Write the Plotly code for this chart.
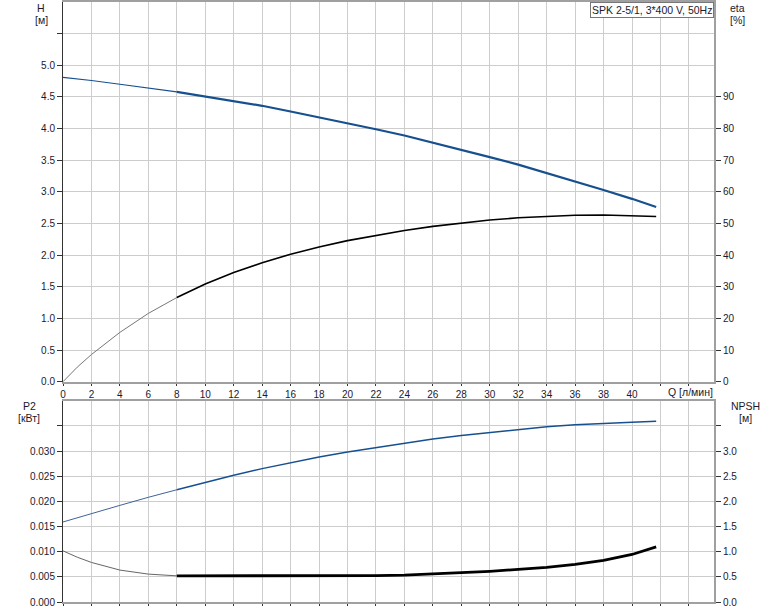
import plotly.graph_objects as go

# ---- data ----
Q = [0, 1, 2, 4, 6, 8, 10, 12, 14, 16, 18, 20, 22, 24, 26, 28, 30, 32, 34, 36, 38, 40, 41.7]
H = [4.81, 4.79, 4.76, 4.70, 4.64, 4.58, 4.51, 4.44, 4.36, 4.27, 4.18, 4.09, 3.99,
     3.89, 3.78, 3.67, 3.55, 3.43, 3.30, 3.17, 3.03, 2.89, 2.76]
ETA = [0, 4.6, 8.6, 15.6, 21.6, 26.6, 30.9, 34.5, 37.6, 40.3, 42.6, 44.6, 46.3,
       47.8, 49.1, 50.2, 51.1, 51.8, 52.3, 52.6, 52.7, 52.5, 52.2]
P2 = [0.0159, 0.01675, 0.0176, 0.0192, 0.0208, 0.0223, 0.0238, 0.0252, 0.0265, 0.0277,
      0.0288, 0.0298, 0.0307, 0.0316, 0.0324, 0.0331, 0.0337, 0.0343, 0.0348,
      0.0352, 0.0355, 0.0357, 0.0359]
NPSH = [1.016, 0.89, 0.786, 0.634, 0.554, 0.52, 0.52, 0.52, 0.52, 0.52, 0.52, 0.52, 0.525,
        0.535, 0.555, 0.58, 0.61, 0.647, 0.687, 0.746, 0.825, 0.944, 1.095]

Q_WORK_START = 8  # start of the thick (operating) section

x_ticks = list(range(0, 46, 2))
x_labels = [str(v) if v <= 40 else "" for v in x_ticks]
h_ticks = [i * 0.5 for i in range(12)]
h_labels = [f"{v:.1f}" if v <= 5.0 else "" for v in h_ticks]
eta_ticks = list(range(0, 100, 10))
p2_ticks = [i * 0.005 for i in range(8)]
p2_labels = [f"{v:.3f}" if v <= 0.0301 else "" for v in p2_ticks]
npsh_ticks = [i * 0.5 for i in range(8)]
npsh_labels = [f"{v:.1f}" if v <= 3.0 else "" for v in npsh_ticks]

BLUE = "#17508f"
FONT = "Liberation Sans, Arial, sans-serif"
TXT = "#1a1a2e"

i_split = Q.index(Q_WORK_START)

fig = go.Figure()


def add_curve(y, xa, ya, color_thin, color, w_thin, w):
    fig.add_trace(go.Scatter(x=Q[:i_split + 1], y=y[:i_split + 1], xaxis=xa, yaxis=ya,
                             mode="lines", line=dict(color=color_thin, width=w_thin),
                             showlegend=False, hoverinfo="skip"))
    fig.add_trace(go.Scatter(x=Q[i_split:], y=y[i_split:], xaxis=xa, yaxis=ya,
                             mode="lines", line=dict(color=color, width=w),
                             showlegend=False, hoverinfo="skip"))


add_curve(H, "x", "y", BLUE, BLUE, 1.2, 2.2)
add_curve(ETA, "x", "y2", "#777777", "#000000", 1, 1.6)
add_curve(P2, "x2", "y3", "#3f6396", BLUE, 1, 1.5)
add_curve(NPSH, "x2", "y4", "#666666", "#000000", 1, 2.8)

L, R, B = 63, 60, 9
W, HT = 774, 611
ph = HT - B
top_dom = [(ph - 381) / ph, 1.0]
bot_dom = [0.0, (ph - 400) / ph]
XR = [0, 651 / 14.225]

grid = "#cdcdcd"
axis_gray = "#a0a0a0"
tickfont = dict(family=FONT, size=10, color=TXT)

common_x = dict(range=XR, tickmode="array", tickvals=x_ticks, showgrid=True,
                gridcolor=grid, gridwidth=1, zeroline=False, ticks="outside",
                ticklen=2, tickcolor="#333", tickfont=tickfont,
                showline=True, linecolor=axis_gray, linewidth=2, mirror=True)

fig.update_layout(
    width=W, height=HT,
    margin=dict(l=L, r=R, t=0, b=B),
    plot_bgcolor="white", paper_bgcolor="white",
    font=dict(family=FONT, size=11, color=TXT),
    xaxis=dict(common_x, anchor="y", ticktext=x_labels),
    xaxis2=dict(common_x, anchor="y3", ticktext=["" for _ in x_ticks]),
    yaxis=dict(domain=top_dom, range=[0, 6], tickmode="array", tickvals=h_ticks,
               ticktext=h_labels, showgrid=True, gridcolor=grid, zeroline=False,
               ticks="outside", ticklen=5, tickcolor="#333", tickfont=tickfont,
               showline=True, linecolor="#333", linewidth=1, anchor="x"),
    yaxis2=dict(domain=top_dom, range=[0, 120], overlaying="y", side="right",
                tickmode="array", tickvals=eta_ticks, ticktext=[str(v) for v in eta_ticks],
                showgrid=False, zeroline=False, ticks="outside", ticklen=5,
                tickcolor="#333", tickfont=tickfont, showline=True,
                linecolor=axis_gray, linewidth=2, anchor="x"),
    yaxis3=dict(domain=bot_dom, range=[0, 0.04], tickmode="array", tickvals=p2_ticks,
                ticktext=p2_labels, showgrid=True, gridcolor=grid, zeroline=False,
                ticks="outside", ticklen=5, tickcolor="#333", tickfont=tickfont,
                showline=True, linecolor="#333", linewidth=1, anchor="x2"),
    yaxis4=dict(domain=bot_dom, range=[0, 4], overlaying="y3", side="right",
                tickmode="array", tickvals=npsh_ticks, ticktext=npsh_labels,
                showgrid=False, zeroline=False, ticks="outside", ticklen=5,
                tickcolor="#333", tickfont=tickfont, showline=True,
                linecolor=axis_gray, linewidth=2, anchor="x2"),
)


def px_x(px):
    return (px - L) / (W - L - R)


def px_y(py):
    return (ph - py) / ph


ann = []
for text, px, py in [("H", 41, 6), ("[м]", 41, 18), ("P2", 29, 405), ("[кВт]", 29, 417),
                     ("eta", 737, 6), ("[%]", 737, 18), ("NPSH", 745, 405), ("[м]", 745, 417),
                     ("Q [л/мин]", 690, 391)]:
    ann.append(dict(text=text, x=px_x(px), y=px_y(py), xref="paper", yref="paper",
                    xanchor="center", yanchor="middle", showarrow=False,
                    font=dict(family=FONT, size=10.5, color=TXT)))
ann.append(dict(text="SPK 2-5/1, 3*400 V, 50Hz", x=px_x(714), y=px_y(0), xref="paper",
                yref="paper", xanchor="right", yanchor="top", showarrow=False,
                bgcolor="white", bordercolor="#777", borderwidth=1, borderpad=1,
                font=dict(family=FONT, size=10.5, color=TXT)))
fig.update_layout(annotations=ann)

fig.write_html("out.html", config={"displayModeBar": False},
               post_script="document.body.style.margin='0px';document.body.style.padding='0px';")
